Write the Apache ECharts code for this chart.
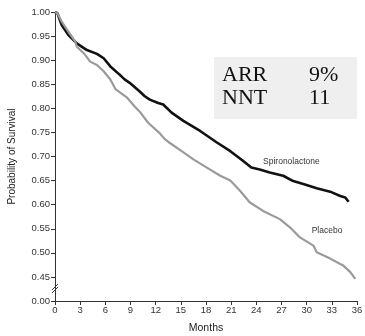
<!DOCTYPE html>
<html>
<head>
<meta charset="utf-8">
<script src="https://cdn.jsdelivr.net/npm/echarts@6/dist/echarts.min.js"></script>
<style>
  html, body { margin: 0; padding: 0; background: #fff; }
  #chart { width: 365px; height: 336px; }
</style>
</head>
<body>
<div id="chart"></div>
<script>
// values (months, probability of survival)
var spiroMonths = [0, 0.3, 0.8, 1.6, 2.6, 3.8, 5.0, 5.8, 6.6, 7.7, 8.3, 8.9, 10.1, 10.7, 11.3, 12.3, 12.9, 13.9, 15.3, 17.3, 19.3, 20.9, 22.4, 23.4, 24.4, 25.6, 27.2, 28.4, 29.6, 31.2, 32.8, 34.0, 34.6, 35.0];
var spiroValues = [1.000, 0.997, 0.973, 0.952, 0.935, 0.921, 0.913, 0.904, 0.887, 0.870, 0.860, 0.853, 0.835, 0.825, 0.818, 0.811, 0.808, 0.791, 0.774, 0.753, 0.729, 0.711, 0.691, 0.677, 0.673, 0.667, 0.660, 0.649, 0.643, 0.634, 0.627, 0.618, 0.615, 0.606];

var placeboMonths = [0, 0.3, 0.8, 1.6, 2.4, 2.6, 3.4, 4.2, 5.0, 5.8, 6.6, 7.2, 8.6, 9.5, 10.1, 11.1, 12.5, 13.1, 13.7, 15.1, 16.5, 18.1, 19.7, 20.9, 22.0, 23.2, 24.8, 26.8, 28.0, 29.2, 30.8, 31.2, 32.8, 34.4, 35.2, 35.8];
var placeboValues = [1.000, 0.997, 0.980, 0.959, 0.939, 0.928, 0.915, 0.897, 0.890, 0.877, 0.860, 0.840, 0.822, 0.804, 0.793, 0.770, 0.748, 0.736, 0.728, 0.711, 0.694, 0.677, 0.660, 0.650, 0.630, 0.605, 0.587, 0.570, 0.553, 0.532, 0.515, 0.501, 0.488, 0.473, 0.460, 0.446];

var seriesNames = ['Spironolactone', 'Placebo'];
var boxLines = [['ARR', '9%'], ['NNT', '11']];

function pairs(xs, ys) {
	var out = [];
	for (var i = 0; i < xs.length; i++) out.push([xs[i], ys[i]]);
	return out;
}

var spiroData = pairs(spiroMonths, spiroValues);
var placeboData = pairs(placeboMonths, placeboValues);

var sans = 'Liberation Sans, Arial, sans-serif';
var axisFont = { color: '#333', fontSize: 9.5, fontFamily: sans };

var option = {
	animation: false,
	grid: { left: 55, right: 8, top: 12, bottom: 35, outerBoundsMode: 'none' },
	xAxis: {
		type: 'value',
		min: 0, max: 36, interval: 3,
		name: 'Months',
		nameLocation: 'middle',
		nameGap: 22,
		nameTextStyle: { color: '#222', fontSize: 10.5, fontFamily: sans },
		axisLine: { lineStyle: { color: '#333', width: 1 } },
		axisTick: { length: 4, lineStyle: { color: '#333' } },
		axisLabel: Object.assign({ margin: 4 }, axisFont),
		splitLine: { show: false }
	},
	yAxis: {
		type: 'value',
		min: 0.40, max: 1.00, interval: 0.05,
		name: 'Probability of Survival',
		nameLocation: 'middle',
		nameRotate: 90,
		nameGap: 38,
		nameTextStyle: { color: '#222', fontSize: 10, fontFamily: sans },
		axisLine: { show: true, lineStyle: { color: '#333', width: 1 } },
		axisTick: { show: true, length: 4, lineStyle: { color: '#333' } },
		axisLabel: Object.assign({
			margin: 5,
			formatter: function(v) {
				if (v < 0.42) return '0.00';
				return v.toFixed(2);
			}
		}, axisFont),
		splitLine: { show: false }
	},
	series: [
		{
			name: seriesNames[0],
			type: 'line',
			data: spiroData,
			showSymbol: false,
			lineStyle: { color: '#111', width: 2.6 }
		},
		{
			name: seriesNames[1],
			type: 'line',
			data: placeboData,
			showSymbol: false,
			lineStyle: { color: '#9a9a9a', width: 2.2 }
		}
	]
};

var chart = echarts.init(document.getElementById('chart'), null, { renderer: 'canvas' });
chart.setOption(option);

// series labels, text box with ARR / NNT and the axis-break mark
var p0 = chart.convertToPixel({ gridIndex: 0 }, [0, 0.425]);
var pSpiro = chart.convertToPixel({ gridIndex: 0 }, [24.8, 0.69]);
var pPlacebo = chart.convertToPixel({ gridIndex: 0 }, [30.6, 0.546]);
var serif = 'Liberation Serif, Times New Roman, serif';
chart.setOption({
	graphic: [
		{ type: 'text', x: pSpiro[0], y: pSpiro[1], style: { text: seriesNames[0], font: '8.5px ' + sans, fill: '#333', textVerticalAlign: 'middle' }, z: 6 },
		{ type: 'text', x: pPlacebo[0], y: pPlacebo[1], style: { text: seriesNames[1], font: '8.5px ' + sans, fill: '#333', textVerticalAlign: 'middle' }, z: 6 },
		{
			type: 'rect', left: 214, top: 57,
			shape: { width: 143, height: 62 },
			style: { fill: '#efefef' }, z: 5
		},
		{ type: 'text', left: 222, top: 64, style: { text: boxLines[0][0], font: '22px ' + serif, fill: '#111' }, z: 6 },
		{ type: 'text', left: 309, top: 64, style: { text: boxLines[0][1], font: '22px ' + serif, fill: '#111' }, z: 6 },
		{ type: 'text', left: 222, top: 87, style: { text: boxLines[1][0], font: '22px ' + serif, fill: '#111' }, z: 6 },
		{ type: 'text', left: 309, top: 87, style: { text: boxLines[1][1], font: '22px ' + serif, fill: '#111' }, z: 6 },
		{
			type: 'line',
			shape: { x1: p0[0] - 3, y1: p0[1] + 1, x2: p0[0] + 3, y2: p0[1] - 5 },
			style: { stroke: '#333', lineWidth: 1 }, z: 10
		},
		{
			type: 'line',
			shape: { x1: p0[0] - 3, y1: p0[1] + 4, x2: p0[0] + 3, y2: p0[1] - 2 },
			style: { stroke: '#333', lineWidth: 1 }, z: 10
		}
	]
});
</script>
</body>
</html>
